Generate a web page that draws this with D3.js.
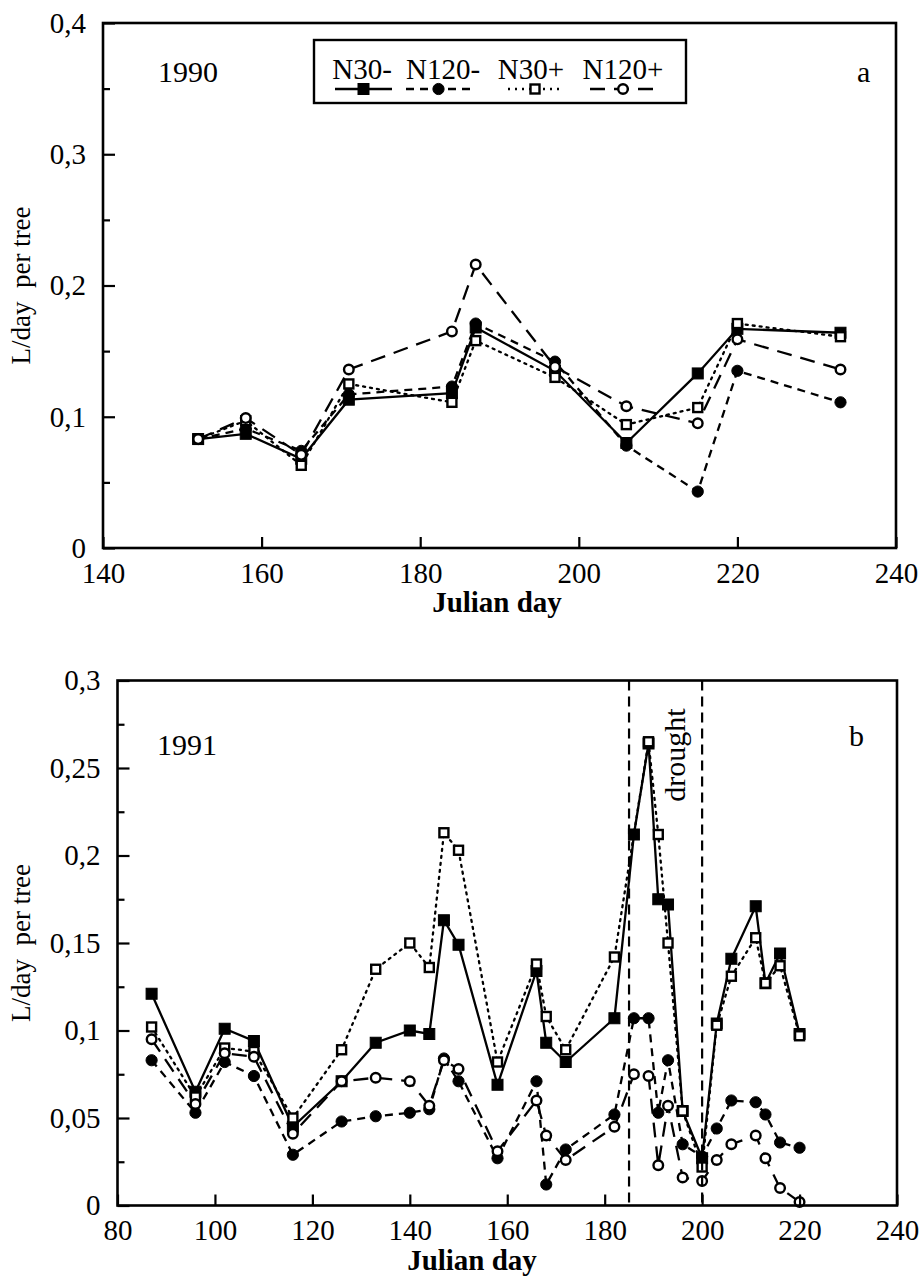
<!DOCTYPE html>
<html><head><meta charset="utf-8">
<script src="https://cdn.jsdelivr.net/npm/d3@7"></script>
<style>
html,body{margin:0;padding:0;background:#fff;}
</style></head>
<body>
<svg id="chart" width="922" height="1281"></svg>
<script>
// ---------- DATA ----------
const seriesNames = ["N30-", "N120-", "N30+", "N120+"];

// Panel a (1990)
const daysA = [152,158,165,171,184,187,197,206,215,220,233];
const aN30m  = [0.083,0.087,0.068,0.113,0.118,0.168,0.135,0.080,0.133,0.167,0.164];
const aN120m = [0.083,0.091,0.074,0.117,0.123,0.171,0.142,0.078,0.043,0.135,0.111];
const aN30p  = [0.083,0.097,0.063,0.125,0.111,0.158,0.130,0.094,0.107,0.171,0.161];
const aN120p = [0.083,0.099,0.071,0.136,0.165,0.216,0.138,0.108,0.095,0.159,0.136];

// Panel b (1991)
const daysB = [87,96,102,108,116,126,133,140,144,147,150,158,166,168,172,182,186,189,191,193,196,200,203,206,211,213,216,220];
const bN30m  = [0.121,0.065,0.101,0.094,0.045,0.071,0.093,0.100,0.098,0.163,0.149,0.069,0.134,0.093,0.082,0.107,0.212,0.264,0.175,0.172,0.054,0.027,0.104,0.141,0.171,0.127,0.144,0.098];
const bN120m = [0.083,0.053,0.082,0.074,0.029,0.048,0.051,0.053,0.055,0.084,0.071,0.027,0.071,0.012,0.032,0.052,0.107,0.107,0.053,0.083,0.035,0.028,0.044,0.060,0.059,0.052,0.036,0.033];
const bN30p  = [0.102,0.062,0.090,0.088,0.050,0.089,0.135,0.150,0.136,0.213,0.203,0.082,0.138,0.108,0.089,0.142,null,0.265,0.212,0.150,0.054,0.022,0.103,0.131,0.153,0.127,0.137,0.097];
const bN120p = [0.095,0.058,0.087,0.085,0.041,0.071,0.073,0.071,0.057,0.083,0.078,0.031,0.060,0.040,0.026,0.045,0.075,0.074,0.023,0.057,0.016,0.014,0.026,0.035,0.040,0.027,0.010,0.002];

const droughtDays = [185, 200];

// Tick values and labels
const xTicksA = [140,160,180,200,220,240];
const yTicksA = [0,0.1,0.2,0.3,0.4];
const yLabelsA = ["0","0,1","0,2","0,3","0,4"];
const yMinorA = [0.05,0.15,0.25,0.35];
const xTicksB = [80,100,120,140,160,180,200,220,240];
const yTicksB = [0,0.05,0.1,0.15,0.2,0.25,0.3];
const yLabelsB = ["0","0,05","0,1","0,15","0,2","0,25","0,3"];
const yMinorB = [0.025,0.075,0.125,0.175,0.225,0.275];

// ---------- STYLES ----------
const FONT = "'Liberation Serif', 'Times New Roman', Times, serif";
const styles = {
  "N30-":  {dash: null,    marker: "square", fill: true},
  "N120-": {dash: "8,6",   marker: "circle", fill: true},
  "N30+":  {dash: "2,5",   marker: "square", fill: false},
  "N120+": {dash: "15,9",  marker: "circle", fill: false}
};

const svg = d3.select("#chart");

function drawMarker(g, type, fill, x, y) {
  if (type === "square") {
    const s = fill ? 11 : 9;
    g.append("rect").attr("x", x - s/2).attr("y", y - s/2).attr("width", s).attr("height", s)
      .attr("fill", fill ? "#000" : "#fff").attr("stroke", "#000").attr("stroke-width", fill ? 1 : 2.4);
  } else {
    const r = fill ? 5.6 : 4.8;
    g.append("circle").attr("cx", x).attr("cy", y).attr("r", r)
      .attr("fill", fill ? "#000" : "#fff").attr("stroke", "#000").attr("stroke-width", fill ? 1 : 2.4);
  }
}

function panel(cfg) {
  const {x, y, days, series, xTicks, yTicks, yLabels, yMinor, year, letter, yearPos, letterPos, titleX} = cfg;
  const g = svg.append("g");
  const [x0, x1] = x.range();
  const [y0, y1] = y.range();

  // lines
  seriesNames.forEach((name, i) => {
    const st = styles[name];
    const pts = days.map((d, j) => ({d, v: series[i][j]})).filter(p => p.v != null);
    g.append("path").datum(pts)
      .attr("d", d3.line().x(p => x(p.d)).y(p => y(p.v)))
      .attr("fill", "none").attr("stroke", "#000").attr("stroke-width", 2.3)
      .attr("stroke-dasharray", st.dash).attr("stroke-linecap", name === "N30+" ? "round" : "butt");
  });
  // markers
  seriesNames.forEach((name, i) => {
    const st = styles[name];
    days.forEach((d, j) => {
      const v = series[i][j];
      if (v == null) return;
      drawMarker(g, st.marker, st.fill, x(d), y(v));
    });
  });

  // axes
  const xAxis = d3.axisBottom(x).tickValues(xTicks).tickSizeInner(-11).tickSizeOuter(0).tickPadding(14).tickFormat(d3.format("d"));
  const gx = g.append("g").attr("transform", `translate(0,${y0})`).call(xAxis);
  const yAxis = d3.axisLeft(y).tickValues(yTicks).tickSizeInner(-12).tickSizeOuter(0).tickPadding(17)
    .tickFormat((d, i) => yLabels[i]);
  const gy = g.append("g").attr("transform", `translate(${x0},0)`).call(yAxis);
  const yAxisMinor = d3.axisLeft(y).tickValues(yMinor).tickSizeInner(-7).tickSizeOuter(0).tickFormat("");
  const gym = g.append("g").attr("transform", `translate(${x0},0)`).call(yAxisMinor);
  [gx, gy, gym].forEach(a => {
    a.attr("font-family", null);
    a.select(".domain").remove();
    a.selectAll("line").attr("stroke", "#000").attr("stroke-width", 2.2);
    a.selectAll("text").attr("font-size", 29).attr("fill", "#000");
  });

  // frame
  g.append("rect").attr("x", x0).attr("y", y1).attr("width", x1 - x0).attr("height", y0 - y1)
    .attr("fill", "none").attr("stroke", "#000").attr("stroke-width", 2.6);

  // axis titles
  g.append("text").attr("x", titleX).attr("y", y0 + 64).attr("text-anchor", "middle")
    .attr("font-size", 29).attr("font-weight", "bold").text("Julian day");
  g.append("text").attr("transform", `translate(30,${(y0 + y1) / 2}) rotate(-90)`).attr("text-anchor", "middle")
    .attr("font-size", 27).attr("xml:space", "preserve").text("L/day  per tree");

  g.append("text").attr("x", yearPos[0]).attr("y", yearPos[1]).attr("font-size", 30).text(year);
  g.append("text").attr("x", letterPos[0]).attr("y", letterPos[1]).attr("font-size", 30).text(letter);
  return g;
}

// Panel a
const xA = d3.scaleLinear().domain([140, 240]).range([103, 896]);
const yA = d3.scaleLinear().domain([0, 0.4]).range([548, 23]);
const gA = panel({x: xA, y: yA, days: daysA, series: [aN30m, aN120m, aN30p, aN120p],
  xTicks: xTicksA, yTicks: yTicksA, yLabels: yLabelsA, yMinor: yMinorA,
  year: "1990", letter: "a", yearPos: [158, 82], letterPos: [857, 82], titleX: 497});

// Legend
const lg = svg.append("g");
lg.append("rect").attr("x", 314).attr("y", 40).attr("width", 372).attr("height", 63)
  .attr("fill", "#fff").attr("stroke", "#000").attr("stroke-width", 2.4);
const legendCenters = [362, 443, 531, 623];
const legendSample = [[335, 392], [406, 471], [508, 562], [590, 656]];
seriesNames.forEach((name, i) => {
  const st = styles[name];
  lg.append("text").attr("x", legendCenters[i]).attr("y", 79).attr("text-anchor", "middle")
    .attr("font-size", 29).text(name);
  const [sx0, sx1] = legendSample[i];
  lg.append("line").attr("x1", sx0).attr("x2", sx1).attr("y1", 89).attr("y2", 89)
    .attr("stroke", "#000").attr("stroke-width", 2.3).attr("stroke-dasharray", st.dash);
  drawMarker(lg, st.marker, st.fill, (sx0 + sx1) / 2, 89);
});

// Panel b
const xB = d3.scaleLinear().domain([80, 240]).range([117.5, 897]);
const yB = d3.scaleLinear().domain([0, 0.3]).range([1205.5, 680.5]);
const gB = panel({x: xB, y: yB, days: daysB, series: [bN30m, bN120m, bN30p, bN120p],
  xTicks: xTicksB, yTicks: yTicksB, yLabels: yLabelsB, yMinor: yMinorB,
  year: "1991", letter: "b", yearPos: [157, 755], letterPos: [849, 746], titleX: 472});

// drought lines
droughtDays.forEach(d => {
  gB.append("line").attr("x1", xB(d)).attr("x2", xB(d)).attr("y1", 680.5).attr("y2", 1205.5)
    .attr("stroke", "#000").attr("stroke-width", 2.2).attr("stroke-dasharray", "10,6");
});
gB.append("text").attr("transform", `translate(${(xB(droughtDays[0]) + xB(droughtDays[1])) / 2 + 19},755) rotate(-90)`)
  .attr("text-anchor", "middle").attr("font-size", 30).text("drought");

// force serif font on every text element
svg.selectAll("text").style("font-family", FONT).style("fill", "#000");
</script>
</body></html>
